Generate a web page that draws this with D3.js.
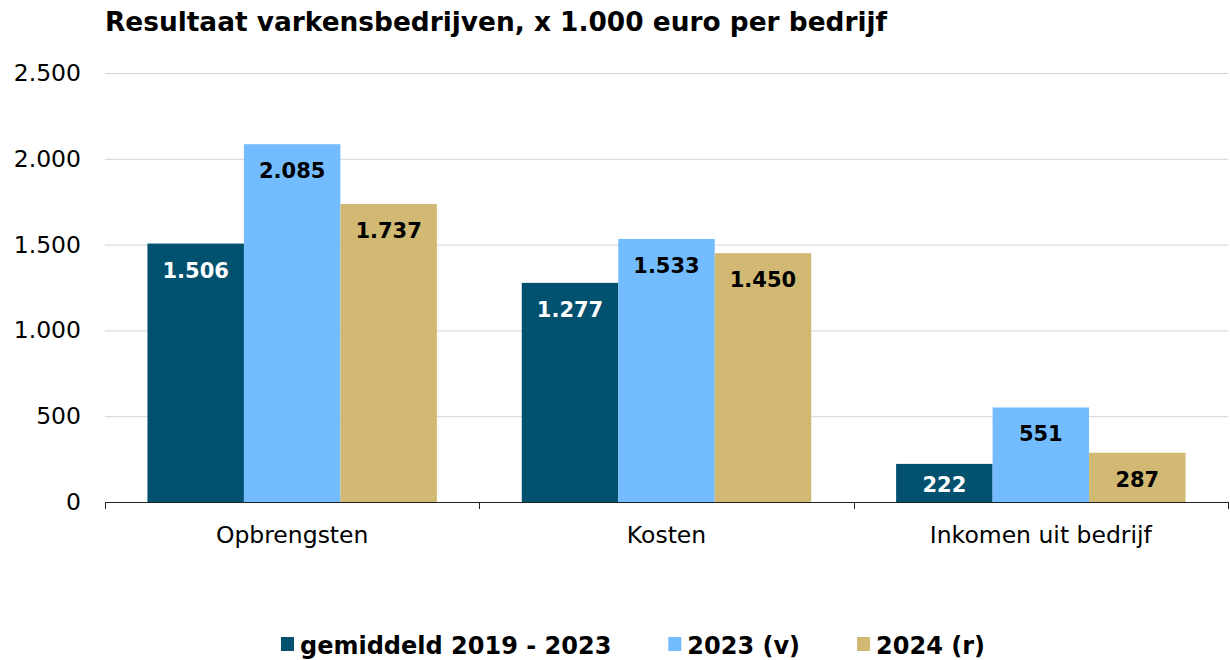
<!DOCTYPE html>
<html>
<head>
<meta charset="utf-8">
<script src="https://cdn.jsdelivr.net/npm/d3@7"></script>
<style>
  body { margin: 0; background: #fff; }
  text { font-family: Verdana, "DejaVu Sans", sans-serif; }
</style>
</head>
<body>
<div id="chart"></div>
<script>
////////////////////////////////////////////////////////////////////////
// Data

let categories = ["Opbrengsten", "Kosten", "Inkomen uit bedrijf"];
let seriesNames = ["gemiddeld 2019 - 2023", "2023 (v)", "2024 (r)"];
let avg2019to2023 = [1506, 1277, 222];
let values2023 = [2085, 1533, 551];
let values2024 = [1737, 1450, 287];
let yTicks = [0, 500, 1000, 1500, 2000, 2500];

let seriesColors = ["#02516f", "#73bcff", "#d1b973"];
let labelColors = ["#ffffff", "#000000", "#000000"];

////////////////////////////////////////////////////////////////////////
// Layout

let width = 1230;
let height = 660;
let plotLeft = 105;
let plotRight = 1228;
let plotTop = 73;
let plotBottom = 502;

let svg = d3.select("#chart")
  .append("svg")
  .attr("width", width)
  .attr("height", height);

// title
svg.append("text")
  .attr("x", plotLeft)
  .attr("y", 31)
  .attr("font-size", "26px")
  .attr("font-weight", "bold")
  .attr("fill", "#000")
  .attr("textLength", 782)
  .attr("lengthAdjust", "spacingAndGlyphs")
  .text("Resultaat varkensbedrijven, x 1.000 euro per bedrijf");

// scales
let yScale = d3.scaleLinear()
  .domain([0, 2500])
  .range([plotBottom, plotTop]);

let x0 = d3.scaleBand()
  .domain(categories)
  .range([plotLeft, plotRight])
  .padding(0);

let x1 = d3.scaleBand()
  .domain(seriesNames)
  .range([0, x0.bandwidth()])
  .paddingInner(0)
  .paddingOuter(0.44);

// gridlines
svg.append("g")
  .selectAll("line")
  .data(yTicks.filter(d => d > 0))
  .enter()
  .append("line")
  .attr("x1", plotLeft)
  .attr("x2", plotRight)
  .attr("y1", d => yScale(d) + 0.5)
  .attr("y2", d => yScale(d) + 0.5)
  .attr("stroke", "#d4d4d4")
  .attr("stroke-width", 1);

// y axis labels (no axis line)
let yAxis = d3.axisLeft(yScale)
  .tickValues(yTicks)
  .tickSize(0)
  .tickPadding(24)
  .tickFormat(d => d3.format(",")(d).replace(/,/g, "."));

svg.append("g")
  .attr("transform", "translate(" + plotLeft + ",0)")
  .call(yAxis)
  .call(g => g.select(".domain").remove())
  .call(g => g.selectAll("text")
    .attr("font-size", "23.5px")
    .attr("fill", "#000")
    .attr("font-family", "Verdana, 'DejaVu Sans', sans-serif"));

// bars
let rows = categories.map((c, i) => ({
  category: c,
  values: [avg2019to2023[i], values2023[i], values2024[i]]
}));

let groups = svg.append("g")
  .selectAll("g")
  .data(rows)
  .enter()
  .append("g")
  .attr("transform", d => "translate(" + x0(d.category) + ",0)");

groups.selectAll("rect")
  .data(d => d.values.map((v, j) => ({ name: seriesNames[j], value: v, j: j })))
  .enter()
  .append("rect")
  .attr("x", d => x1(d.name))
  .attr("width", x1.bandwidth())
  .attr("y", d => yScale(d.value))
  .attr("height", d => plotBottom - yScale(d.value))
  .attr("fill", d => seriesColors[d.j]);

// value labels, inside near the top of the bars
groups.selectAll("text")
  .data(d => d.values.map((v, j) => ({ name: seriesNames[j], value: v, j: j })))
  .enter()
  .append("text")
  .attr("x", d => x1(d.name) + x1.bandwidth() / 2)
  .attr("y", d => Math.min(yScale(d.value) + 34, plotBottom - 10))
  .attr("text-anchor", "middle")
  .attr("font-size", "21px")
  .attr("font-weight", "bold")
  .attr("fill", d => labelColors[d.j])
  .text(d => d3.format(",")(d.value).replace(/,/g, "."));

// x axis
let xAxis = d3.axisBottom(x0)
  .tickSize(0)
  .tickPadding(24);

svg.append("g")
  .attr("transform", "translate(0," + plotBottom + ")")
  .call(xAxis)
  .call(g => g.select(".domain").remove())
  .call(g => g.selectAll("text")
    .attr("font-size", "23.5px")
    .attr("fill", "#000")
    .attr("font-family", "Verdana, 'DejaVu Sans', sans-serif"));

svg.append("line")
  .attr("x1", plotLeft)
  .attr("x2", plotRight)
  .attr("y1", plotBottom + 0.5)
  .attr("y2", plotBottom + 0.5)
  .attr("stroke", "#222")
  .attr("stroke-width", 1.2);

// tick marks between the categories
let boundaries = categories.map(c => x0(c)).concat([plotRight]);
svg.append("g")
  .selectAll("line")
  .data(boundaries)
  .enter()
  .append("line")
  .attr("x1", d => Math.round(d) + 0.5)
  .attr("x2", d => Math.round(d) + 0.5)
  .attr("y1", plotBottom)
  .attr("y2", plotBottom + 7)
  .attr("stroke", "#222")
  .attr("stroke-width", 1);

// legend
let legend = svg.append("g");
let items = legend.selectAll("g")
  .data(seriesNames)
  .enter()
  .append("g");

items.append("rect")
  .attr("width", 13)
  .attr("height", 14)
  .attr("y", -17)
  .attr("fill", (d, i) => seriesColors[i]);

items.append("text")
  .attr("x", 19)
  .attr("y", 0)
  .attr("font-size", "24px")
  .attr("font-weight", "bold")
  .attr("fill", "#000")
  .text(d => d);

// place legend items next to each other and center them
let gap = 57;
let offsets = [];
let cursor = 0;
items.each(function () {
  offsets.push(cursor);
  cursor += this.getBBox().width + gap;
});
let totalWidth = cursor - gap;
let legendCenter = 633;
items.attr("transform", (d, i) => "translate(" + (legendCenter - totalWidth / 2 + offsets[i]) + ",654)");
</script>
</body>
</html>
